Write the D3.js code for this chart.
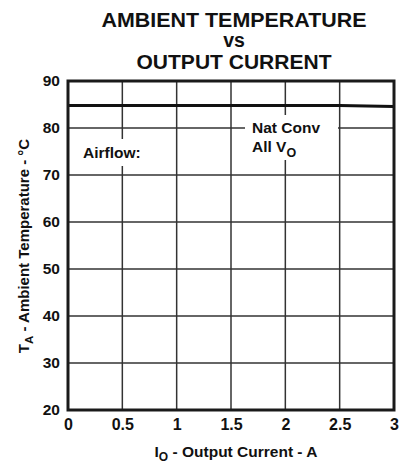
<!DOCTYPE html>
<html>
<head>
<meta charset="utf-8">
<script src="https://cdn.jsdelivr.net/npm/d3@7"></script>
<style>
  body { margin: 0; background: #fff; }
  text { font-family: "Liberation Sans", Arial, sans-serif; font-weight: bold; fill: #111; }
</style>
</head>
<body>
<svg id="chart" width="403" height="463"></svg>
<script>
// data
var currents = [0, 0.5, 1, 1.5, 2, 2.5, 2.75, 3];
var natConvTemp = [84.8, 84.8, 84.8, 84.8, 84.8, 84.8, 84.7, 84.6];
var xTicks = [0, 0.5, 1, 1.5, 2, 2.5, 3];
var yTicks = [20, 30, 40, 50, 60, 70, 80, 90];
var titleLines = ['AMBIENT TEMPERATURE', 'vs', 'OUTPUT CURRENT'];

var svg = d3.select('#chart');
var plotLeft = 68, plotRight = 394, plotTop = 81, plotBottom = 410;

var x = d3.scaleLinear().domain([0, 3]).range([plotLeft, plotRight]);
var y = d3.scaleLinear().domain([20, 90]).range([plotBottom, plotTop]);

// title (the original lettering is a bit wider than Arial)
var titleWidths = [265, null, 195];
svg.append('g').selectAll('text')
    .data(titleLines)
  .enter().append('text')
    .attr('x', 234)
    .attr('y', function(d, i){ return [27, 47, 69][i]; })
    .attr('text-anchor', 'middle')
    .attr('textLength', function(d, i){ return titleWidths[i]; })
    .attr('lengthAdjust', 'spacingAndGlyphs')
    .style('font-size', '19.5px')
    .text(function(d){ return d; });

//grid
var grid = svg.append('g');
grid.selectAll('line.v')
    .data(xTicks.slice(1, -1))
  .enter().append('line')
    .attr('class', 'v')
    .attr('x1', function(d){ return x(d); })
    .attr('x2', function(d){ return x(d); })
    .attr('y1', plotTop).attr('y2', plotBottom)
    .attr('stroke', '#333').attr('stroke-width', 1.5);
grid.selectAll('line.h')
    .data(yTicks.slice(1, -1))
  .enter().append('line')
    .attr('class', 'h')
    .attr('x1', plotLeft).attr('x2', plotRight)
    .attr('y1', function(d){ return y(d); })
    .attr('y2', function(d){ return y(d); })
    .attr('stroke', '#333').attr('stroke-width', 1.5);

// white patches behind the labels
svg.append('rect').attr('x', 77).attr('y', 139).attr('width', 72).attr('height', 27).attr('fill', '#fff');
svg.append('rect').attr('x', 245).attr('y', 115).attr('width', 93).attr('height', 45).attr('fill', '#fff');

// curve
var line = d3.line()
    .x(function(d){ return x(d[0]); })
    .y(function(d){ return y(d[1]); });
svg.append('path')
    .datum(d3.zip(currents, natConvTemp))
    .attr('d', line)
    .attr('fill', 'none')
    .attr('stroke', '#111')
    .attr('stroke-width', 3);

// frame
svg.append('rect')
    .attr('x', plotLeft).attr('y', plotTop)
    .attr('width', plotRight - plotLeft).attr('height', plotBottom - plotTop)
    .attr('fill', 'none').attr('stroke', '#1a1a1a').attr('stroke-width', 3);

// axes labels
var xAxis = d3.axisBottom(x).tickValues(xTicks).tickSize(0).tickPadding(9)
    .tickFormat(function(d){ return String(d); });
var gx = svg.append('g').attr('transform', 'translate(0,' + plotBottom + ')').call(xAxis);
gx.select('.domain').remove();
gx.selectAll('text').style('font-size', '16px').attr('fill', null);
gx.attr('font-family', null).attr('font-size', null);

var yAxis = d3.axisLeft(y).tickValues(yTicks).tickSize(0).tickPadding(8);
var gy = svg.append('g').attr('transform', 'translate(' + plotLeft + ',0)').call(yAxis);
gy.select('.domain').remove();
gy.selectAll('text').style('font-size', '15.5px').attr('fill', null);
gy.attr('font-family', null).attr('font-size', null);

// annotations
svg.append('text').attr('x', 83).attr('y', 158).style('font-size', '15.5px').text('Airflow:');
svg.append('text').attr('x', 252).attr('y', 133).style('font-size', '15.5px').text('Nat Conv');
var vo = svg.append('text').attr('x', 252).attr('y', 152).style('font-size', '15.5px');
vo.append('tspan').text('All V');
vo.append('tspan').attr('dy', 5).style('font-size', '12.5px').text('O');

// axis titles
var xt = svg.append('text').attr('x', 236).attr('y', 457).attr('text-anchor', 'middle').style('font-size', '15.5px');
xt.append('tspan').text('I');
xt.append('tspan').attr('dy', 4).style('font-size', '12px').text('O');
xt.append('tspan').attr('dy', -4).text(' - Output Current - A');

var yt = svg.append('text').attr('transform', 'translate(29,246) rotate(-90)')
    .attr('text-anchor', 'middle').style('font-size', '15px');
yt.append('tspan').text('T');
yt.append('tspan').attr('dy', 4).style('font-size', '11.5px').text('A');
yt.append('tspan').attr('dy', -4).text(' - Ambient Temperature - °C');
</script>
</body>
</html>
